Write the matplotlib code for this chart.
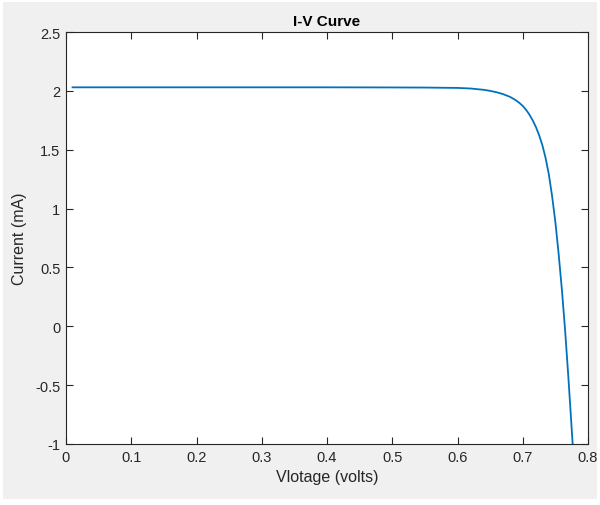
import matplotlib
matplotlib.use("Agg")
import matplotlib.pyplot as plt
from matplotlib.patches import Rectangle

# Values
voltage = [0.01, 0.1, 0.2, 0.3, 0.4, 0.5, 0.55, 0.60, 0.62, 0.64, 0.65, 0.66,
           0.67, 0.68, 0.685, 0.69, 0.695, 0.70, 0.705, 0.71, 0.715, 0.72,
           0.725, 0.73, 0.735, 0.74, 0.745, 0.75, 0.755, 0.76, 0.765, 0.77,
           0.7765]
current = [2.03, 2.03, 2.03, 2.03, 2.03, 2.029, 2.028, 2.025, 2.02, 2.009, 2.0,
           1.988, 1.972, 1.95, 1.935, 1.918, 1.897, 1.872, 1.84, 1.80, 1.752,
           1.695, 1.625, 1.54, 1.43, 1.29, 1.105, 0.885, 0.615, 0.31, -0.04, -0.44,
           -1.0]

x_ticks = [0, 0.1, 0.2, 0.3, 0.4, 0.5, 0.6, 0.7, 0.8]
x_labels = ["0", "0.1", "0.2", "0.3", "0.4", "0.5", "0.6", "0.7", "0.8"]
y_ticks = [-1, -0.5, 0, 0.5, 1, 1.5, 2, 2.5]
y_labels = ["-1", "-0.5", "0", "0.5", "1", "1.5", "2", "2.5"]

plt.rcParams["font.family"] = ["Liberation Sans", "DejaVu Sans"]

fig = plt.figure(figsize=(6, 5.06), dpi=100)
fig.patch.set_facecolor("white")
# grey MATLAB figure background with a thin white margin
fig.patches.append(Rectangle((3 / 600, 6 / 506), 594 / 600, 497 / 506,
                             transform=fig.transFigure, facecolor="#f0f0f0",
                             edgecolor="none", zorder=-10))

ax = fig.add_axes([66 / 600, 61 / 506, 522 / 600, 412 / 506])
ax.set_facecolor("white")
ax.plot(voltage, current, color="#0072BD", linewidth=1.3)

ax.set_xlim(0, 0.8)
ax.set_ylim(-1, 2.5)
ax.set_xticks(x_ticks)
ax.set_xticklabels(x_labels)
ax.set_yticks(y_ticks)
ax.set_yticklabels(y_labels)
ax.tick_params(direction="in", length=5, width=0.8, top=True, right=True,
               labelsize=10.5, colors="#262626", pad=4)

for side in ax.spines.values():
    side.set_color("#262626")
    side.set_linewidth(0.8)

ax.set_title("I-V Curve", fontsize=11, fontweight="bold", color="black", pad=5)
ax.set_xlabel("Vlotage (volts)", fontsize=11.5, color="#262626", labelpad=4)
ax.set_ylabel("Current (mA)", fontsize=11.5, color="#262626", labelpad=6)

fig.savefig("out.png", dpi=100)
